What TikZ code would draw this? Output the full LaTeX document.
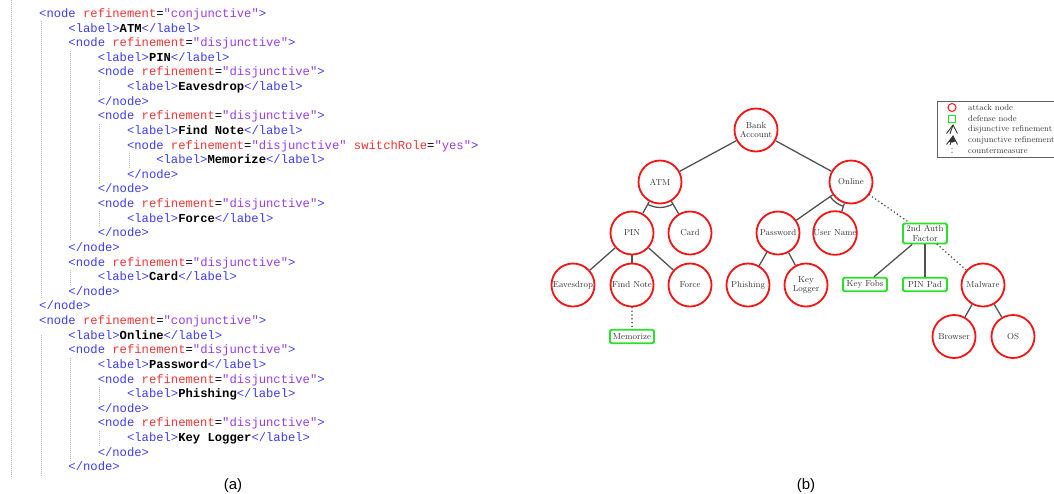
\documentclass[tikz,border=0pt]{standalone}
\usepackage{fontspec}
\newfontfamily\codefont{Liberation Mono}
\newfontfamily\capfont{Liberation Sans}
\usetikzlibrary{calc}

\definecolor{xtag}{RGB}{60,60,240}
\definecolor{xatt}{RGB}{238,52,52}
\definecolor{xval}{RGB}{150,60,230}
\definecolor{atk}{RGB}{245,20,20}
\definecolor{dfn}{RGB}{40,225,40}

% XML syntax colouring
\newcommand\tagc[1]{\textcolor{xtag}{#1}}
\newcommand\attc[1]{\textcolor{xatt}{#1}}
\newcommand\valc[1]{\textcolor{xval}{#1}}
\newcommand\xopen[1]{\tagc{<node }\attc{refinement}=\valc{"#1"}\tagc{>}}
\newcommand\xlab[1]{\tagc{<label>}\textbf{#1}\tagc{</label>}}
\newcommand\xclose{\tagc{</node>}}
% one line of the listing: name, indent level, line number, content
\newcommand\codeline[4]{\node[codetxt] (#1) at ({39+#2*29.28},{17.5+(#3-1)*14.62}) {#4};}

\tikzset{
  codetxt/.style={anchor=base west, inner sep=0pt,
    font=\codefont\fontsize{12.2}{14.6}\selectfont},
  guide/.style={draw=black!28, line width=0.8pt, dash pattern=on 1pt off 1pt},
  treefont/.style={font=\fontsize{8.7}{9.6}\selectfont, text=black!80},
  attack/.style={circle, draw=atk, line width=1.8pt, minimum size=43pt,
    inner sep=0pt, align=center, treefont},
  defense/.style={rectangle, draw=dfn, line width=1.8pt, rounded corners=1.5pt,
    minimum width=44pt, minimum height=13.5pt, inner sep=1.5pt, align=center, treefont},
  edge/.style={draw=black!68, line width=1.3pt},
  cmedge/.style={draw=black!68, line width=1.8pt, line cap=round, dash pattern=on 0pt off 3.8pt},
  legtxt/.style={anchor=west, inner sep=0pt, font=\fontsize{8.5}{9}\selectfont, text=black!78},
}

\begin{document}
\begin{tikzpicture}[x=1pt, y=-1pt]
\useasboundingbox (0,0) rectangle (1054,493);
\clip (0,0) rectangle (1054,493);

% ---------------- (a) XML listing ----------------
% indentation guides
\draw[guide] (11.7,0) -- (11.7,477);
\draw[guide] (41,21.3) -- (41,299.1);
\draw[guide] (41,335.3) -- (41,477);
\draw[guide] (70.3,50.6) -- (70.3,240.6);
\draw[guide] (70.3,269.9) -- (70.3,284.5);
\draw[guide] (70.3,357.6) -- (70.3,459.9);
\draw[guide] (99.6,79.8) -- (99.6,94.4);
\draw[guide] (99.6,123.7) -- (99.6,182.1);
\draw[guide] (99.6,211.4) -- (99.6,226.0);
\draw[guide] (99.6,386.8) -- (99.6,401.4);
\draw[guide] (99.6,430.7) -- (99.6,445.3);
\draw[guide] (128.9,152.9) -- (128.9,167.5);

\codeline{c1}{0}{1}{\xopen{conjunctive}}
\codeline{c2}{1}{2}{\xlab{ATM}}
\codeline{c3}{1}{3}{\xopen{disjunctive}}
\codeline{c4}{2}{4}{\xlab{PIN}}
\codeline{c5}{2}{5}{\xopen{disjunctive}}
\codeline{c6}{3}{6}{\xlab{Eavesdrop}}
\codeline{c7}{2}{7}{\xclose}
\codeline{c8}{2}{8}{\xopen{disjunctive}}
\codeline{c9}{3}{9}{\xlab{Find Note}}
\codeline{c10}{3}{10}{\tagc{<node }\attc{refinement}=\valc{"disjunctive"} \attc{switchRole}=\valc{"yes"}\tagc{>}}
\codeline{c11}{4}{11}{\xlab{Memorize}}
\codeline{c12}{3}{12}{\xclose}
\codeline{c13}{2}{13}{\xclose}
\codeline{c14}{2}{14}{\xopen{disjunctive}}
\codeline{c15}{3}{15}{\xlab{Force}}
\codeline{c16}{2}{16}{\xclose}
\codeline{c17}{1}{17}{\xclose}
\codeline{c18}{1}{18}{\xopen{disjunctive}}
\codeline{c19}{2}{19}{\xlab{Card}}
\codeline{c20}{1}{20}{\xclose}
\codeline{c21}{0}{21}{\xclose}
\codeline{c22}{0}{22}{\xopen{conjunctive}}
\codeline{c23}{1}{23}{\xlab{Online}}
\codeline{c24}{1}{24}{\xopen{disjunctive}}
\codeline{c25}{2}{25}{\xlab{Password}}
\codeline{c26}{2}{26}{\xopen{disjunctive}}
\codeline{c27}{3}{27}{\xlab{Phishing}}
\codeline{c28}{2}{28}{\xclose}
\codeline{c29}{2}{29}{\xopen{disjunctive}}
\codeline{c30}{3}{30}{\xlab{Key Logger}}
\codeline{c31}{2}{31}{\xclose}
\codeline{c32}{1}{32}{\xclose}

\node[anchor=base, inner sep=0pt, font=\capfont\fontsize{15}{15}\selectfont] (capa) at (233,489) {(a)};

% ---------------- (b) attack-defense tree ----------------
\node[attack] (BA) at (756,130) {Bank\\Account};
\node[attack] (ATM) at (660,182) {ATM};
\node[attack] (ONL) at (851,182) {Online};
\node[attack] (PIN) at (632,233) {PIN};
\node[attack] (CARD) at (690,233) {Card};
\node[attack] (PWD) at (778,233) {Password};
\node[attack] (USR) at (835,233) {User Name};
\node[defense, minimum height=20pt] (AUTH) at (925,233.5) {2nd Auth\\Factor};
\node[attack] (EAV) at (573,285) {Eavesdrop};
\node[attack] (FND) at (632,285) {Find Note};
\node[attack] (FRC) at (690,285) {Force};
\node[attack] (PHI) at (748,285) {Phishing};
\node[attack] (KLG) at (806,285) {Key\\Logger};
\node[defense] (FOB) at (865,284.5) {Key Fobs};
\node[defense] (PAD) at (925,284.5) {PIN Pad};
\node[attack] (MAL) at (983,285) {Malware};
\node[defense] (MEM) at (632,336.5) {Memorize};
\node[attack] (BRW) at (954,336.5) {Browser};
\node[attack] (OS) at (1013,336.5) {OS};

\draw[edge] (BA) -- (ATM);
\draw[edge] (BA) -- (ONL);
\draw[edge] (ATM) -- (PIN);
\draw[edge] (ATM) -- (CARD);
\draw[edge] (ONL) -- (PWD);
\draw[edge] (ONL) -- (USR);
\draw[edge] (PIN) -- (EAV);
\draw[edge] (PIN) -- (FND);
\draw[edge] (PIN) -- (FRC);
\draw[edge] (PWD) -- (PHI);
\draw[edge] (PWD) -- (KLG);
\draw[edge] (AUTH) -- (FOB);
\draw[edge] (AUTH) -- (PAD);
\draw[edge] (MAL) -- (BRW);
\draw[edge] (MAL) -- (OS);
\draw[cmedge] (ONL) -- (AUTH);
\draw[cmedge] (FND) -- (MEM);
\draw[cmedge] (AUTH) -- (MAL);

% conjunctive refinement arcs
\begin{scope}
  \clip (ATM.center) -- ($(ATM.center)!4!(PIN.center)$) -- ($(ATM.center)!4!(CARD.center)$) -- cycle;
  \draw[edge] (ATM.center) circle[radius=25.5];
\end{scope}
\begin{scope}
  \clip (ONL.center) -- ($(ONL.center)!4!(PWD.center)$) -- ($(ONL.center)!4!(USR.center)$) -- cycle;
  \draw[edge] (ONL.center) circle[radius=25.5];
\end{scope}

% legend
\draw[draw=black!62, line width=0.9pt] (937,101) rectangle (1070,157);
\node[circle, draw=atk, line width=1pt, minimum size=8pt, inner sep=0pt] (lgA) at (952,107.5) {};
\node[rectangle, draw=dfn, line width=1pt, minimum size=7pt, inner sep=0pt] (lgD) at (952,118.5) {};
\draw[black!80, line width=0.9pt] (946.5,133.5) -- (953,125) -- (957.5,133.5);
\draw[black!80, line width=0.9pt] (950,133.8) -- (953,125);
\draw[black!80, line width=0.9pt] (946.5,144.5) -- (953,136) -- (957.5,144.5);
\draw[black!80, line width=0.9pt] (950,144.8) -- (953,136);
\fill[black!80] (953,136) -- (948.6,141.7) .. controls (951,143) and (953.5,143) .. (955.6,141.3) -- cycle;
\fill[black!70] (952,148.3) circle[radius=0.6];
\fill[black!70] (952,152.3) circle[radius=0.6];
\node[legtxt] (ltA) at (968,107.5) {attack node};
\node[legtxt] (ltD) at (968,118.5) {defense node};
\node[legtxt] (ltO) at (968,129.5) {disjunctive refinement};
\node[legtxt] (ltC) at (968,140.5) {conjunctive refinement};
\node[legtxt] (ltM) at (968,151) {countermeasure};

\node[anchor=base, inner sep=0pt, font=\capfont\fontsize{15}{15}\selectfont] (capb) at (806,489) {(b)};
\end{tikzpicture}
\end{document}
